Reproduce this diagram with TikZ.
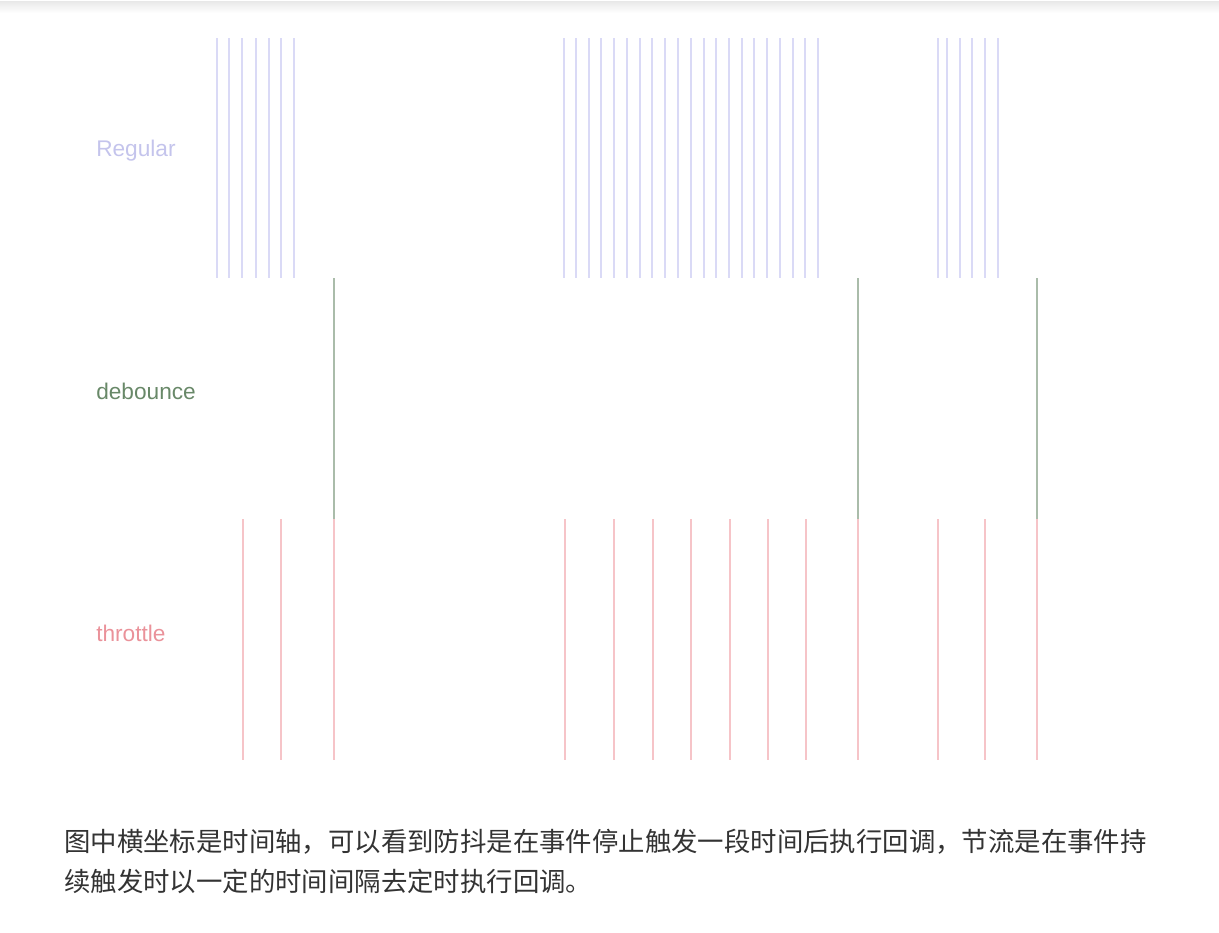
\documentclass[tikz,border=0pt]{standalone}
\usepackage{fontspec}
\setmainfont{Liberation Sans}
\newfontfamily\cjk{Noto Sans CJK SC}
\usepackage{tikz}
\usetikzlibrary{positioning}
\definecolor{RegLine}{RGB}{218,218,246}
\definecolor{RegText}{RGB}{196,196,236}
\definecolor{DebLine}{RGB}{170,188,170}
\definecolor{DebText}{RGB}{104,136,104}
\definecolor{ThrLine}{RGB}{246,196,200}
\definecolor{ThrText}{RGB}{234,146,154}
\definecolor{NoteText}{RGB}{51,51,51}
\tikzset{every node/.style={font=\fontsize{17}{20}\selectfont, inner sep=0pt},
  tick/.style={line width=1.6pt},
  rowlabel/.style={anchor=west}}

\begin{document}
\begin{tikzpicture}[x=0.75pt, y=-0.75pt]
    \useasboundingbox (0,0) rectangle (1219,932);
    \shade [top color=black!9, bottom color=white] (0,1) rectangle (1219,13);
    % Regular
    \node [rowlabel, text=RegText] (regular) at (96,151) {Regular};
    \foreach \x in {217,229,242,256,269,281,294,
                    564,576,589,601,614,627,640,652,665,678,691,704,716,729,742,754,767,780,793,805,818,
                    938,947,960,972,985,998}
        \draw [tick, RegLine] (\x,38) -- (\x,278);
    % debounce
    \node [rowlabel, text=DebText] (debounce) at (96,391) {debounce};
    \foreach \x in {334,858,1037}
        \draw [tick, DebLine] (\x,278) -- (\x,519);
    % throttle
    \node [rowlabel, text=ThrText] (throttle) at (96,633) {throttle};
    \foreach \x in {243,281,334,565,614,653,691,730,768,806,858,938,985,1037}
        \draw [tick, ThrLine] (\x,519) -- (\x,760);
    % caption
    \node [anchor=west, align=left, text=NoteText,
        font=\cjk\fontsize{19.8}{30}\selectfont] (note) at (64,861) {%
        图中横坐标是时间轴，可以看到防抖是在事件停止触发一段时间后执行回调，节流是在事件持\\
        续触发时以一定的时间间隔去定时执行回调。};
\end{tikzpicture}
\end{document}
